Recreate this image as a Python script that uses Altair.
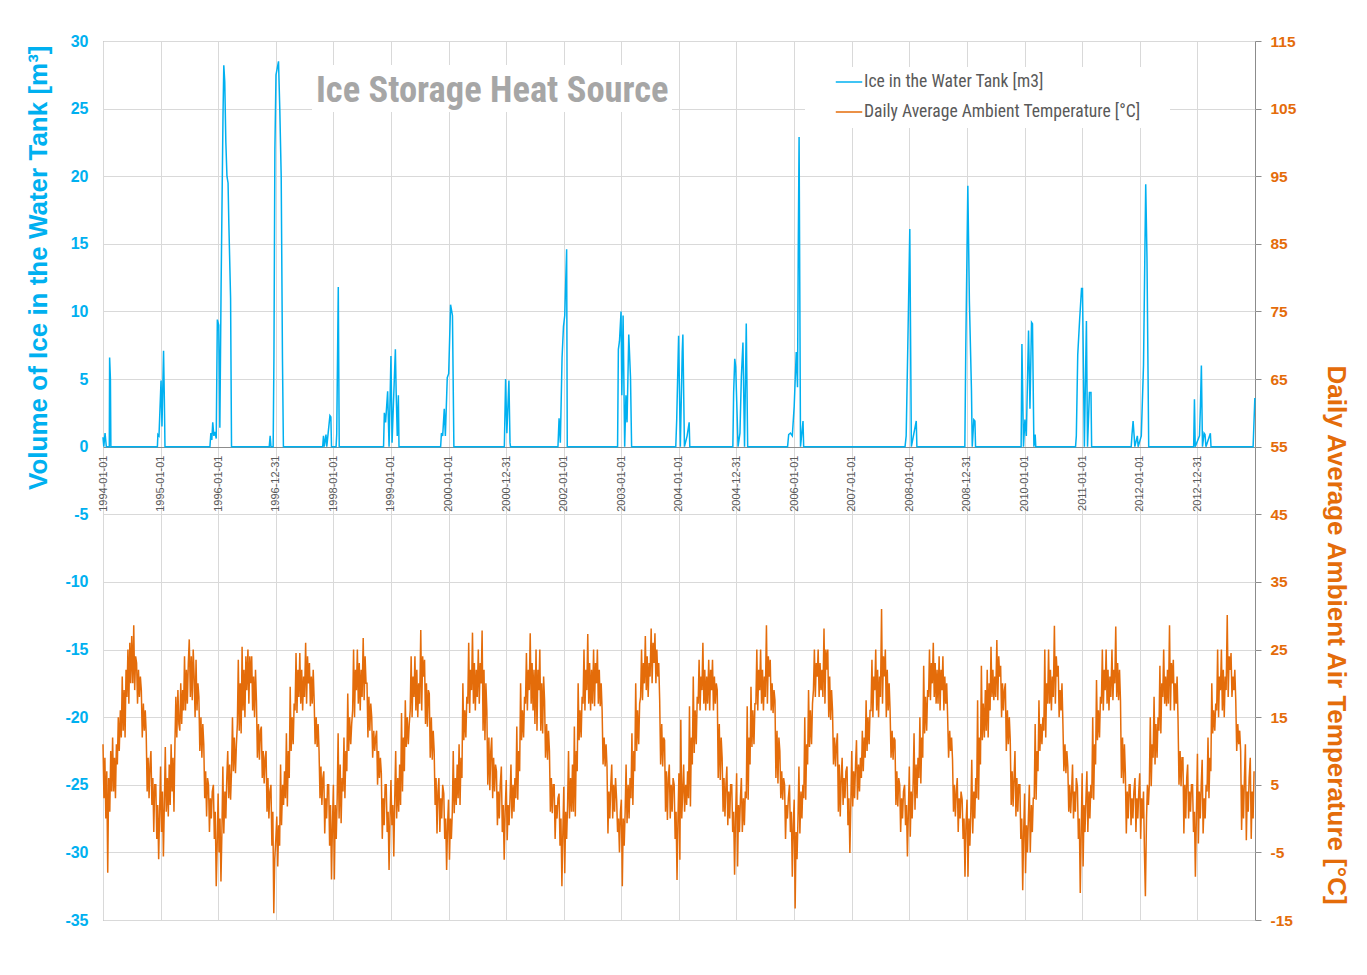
import altair as alt
import pandas as pd

ICE_NAME = "Ice in the Water Tank [m3]"
TEMP_NAME = "Daily Average Ambient Temperature [°C]"
ICE_COLOR = "#00B0F0"
TEMP_COLOR = "#E46C0A"
GRID = "#D9D9D9"
FRAME = "#8C8C8C"
BOLD = "Liberation Sans, Arial, sans-serif"
NARROW = "Roboto Condensed, Liberation Sans Narrow, Arial Narrow, sans-serif"

# x axis tick labels (as printed on the chart)
tick_dates = [
    "1994-01-01", "1995-01-01", "1996-01-01", "1996-12-31", "1998-01-01",
    "1999-01-01", "2000-01-01", "2000-12-31", "2002-01-01", "2003-01-01",
    "2004-01-01", "2004-12-31", "2006-01-01", "2007-01-01", "2008-01-01",
    "2008-12-31", "2010-01-01", "2011-01-01", "2012-01-01", "2012-12-31",
]

# ice in the water tank [m3]
ice_dates = [
    "1994-01-01", "1994-01-06", "1994-01-14", "1994-01-19", "1994-01-22", "1994-02-10", "1994-02-12", "1994-02-17", "1994-02-20",
    "1994-12-12", "1994-12-15", "1994-12-22", "1995-01-04", "1995-01-10", "1995-01-20", "1995-01-25", "1995-01-29",
    "1995-11-10", "1995-11-16", "1995-11-22", "1995-11-28", "1995-12-05", "1995-12-12", "1995-12-20", "1995-12-27",
    "1996-01-05", "1996-01-12", "1996-01-20", "1996-02-01", "1996-02-06", "1996-02-12", "1996-02-19", "1996-02-26",
    "1996-03-04", "1996-03-09", "1996-03-20", "1996-03-26",
    "1996-11-20", "1996-11-26", "1996-12-01", "1996-12-15", "1996-12-20", "1996-12-26", "1997-01-02", "1997-01-10",
    "1997-01-18", "1997-01-26", "1997-02-04", "1997-02-12", "1997-02-18",
    "1997-10-25", "1997-10-30", "1997-11-04", "1997-11-15", "1997-11-20", "1997-12-10", "1997-12-16", "1997-12-20",
    "1998-01-18", "1998-01-22", "1998-02-01", "1998-02-07",
    "1998-11-15", "1998-11-20", "1998-11-28", "1998-12-11", "1998-12-20", "1999-01-01", "1999-01-08", "1999-01-29",
    "1999-02-03", "1999-02-10", "1999-02-17", "1999-02-21",
    "1999-11-12", "1999-11-17", "1999-11-25", "1999-12-05", "1999-12-12", "1999-12-24", "2000-01-02", "2000-01-14",
    "2000-01-26", "2000-02-04",
    "2000-12-20", "2000-12-28", "2001-01-05", "2001-01-18", "2001-01-25", "2001-01-28",
    "2001-11-25", "2001-12-02", "2001-12-10", "2001-12-21", "2001-12-30", "2002-01-07", "2002-01-19", "2002-01-23",
    "2002-12-08", "2002-12-13", "2002-12-20", "2002-12-30", "2003-01-04", "2003-01-12", "2003-01-22", "2003-01-30",
    "2003-02-06", "2003-02-17", "2003-02-28", "2003-03-07",
    "2003-12-12", "2003-12-18", "2003-12-30", "2004-01-10", "2004-01-22", "2004-01-26", "2004-02-05", "2004-02-22",
    "2004-03-06", "2004-03-10",
    "2004-12-08", "2004-12-13", "2004-12-20", "2004-12-26", "2005-01-10", "2005-01-22", "2005-01-31", "2005-02-10",
    "2005-02-20", "2005-03-03", "2005-03-12",
    "2005-11-20", "2005-11-27", "2005-12-08", "2005-12-20", "2006-01-01", "2006-01-14", "2006-01-22", "2006-01-27",
    "2006-02-01", "2006-02-10", "2006-02-26", "2006-03-02",
    "2007-12-05", "2007-12-12", "2007-12-22", "2008-01-04", "2008-01-14", "2008-02-14", "2008-02-18",
    "2008-12-18", "2008-12-24", "2009-01-06", "2009-01-16", "2009-01-29", "2009-02-03", "2009-02-13", "2009-02-20",
    "2009-02-24",
    "2009-12-10", "2009-12-15", "2009-12-25", "2010-01-03", "2010-01-12", "2010-01-26", "2010-02-04", "2010-02-14",
    "2010-02-20", "2010-03-01", "2010-03-09", "2010-03-13",
    "2010-11-20", "2010-11-25", "2010-12-04", "2010-12-16", "2010-12-28", "2011-01-03", "2011-01-15", "2011-01-28",
    "2011-02-04", "2011-02-16", "2011-02-26", "2011-03-02",
    "2011-11-08", "2011-11-13", "2011-11-20", "2011-11-26", "2011-12-01", "2011-12-17", "2011-12-22", "2012-01-11",
    "2012-01-25", "2012-02-08", "2012-02-16", "2012-02-27",
    "2012-12-08", "2012-12-13", "2012-12-18", "2013-01-14", "2013-01-20", "2013-01-26", "2013-02-02", "2013-02-12",
    "2013-02-18", "2013-02-24", "2013-03-24", "2013-03-28",
    "2013-12-20", "2013-12-31",
]
ice_m3 = [
    0.7, 0, 1.0, 0.4, 0, 0, 6.6, 5.0, 0,
    0, 0.9, 0.8, 4.9, 1.5, 7.1, 3.5, 0,
    0, 1.0, 0.5, 1.8, 0.8, 1.1, 0.6, 9.4,
    9.0, 1.4, 12, 24.5, 28.2, 27, 22.5, 20,
    19.5, 16.5, 11, 0,
    0, 0.8, 0, 0, 6.7, 22, 27.5, 28.0,
    28.5, 25, 20, 6.5, 0,
    0, 0.8, 0, 0.9, 0, 2.3, 2.2, 0,
    0, 0.9, 11.8, 0,
    0, 2.5, 1.8, 4.1, 0, 6.7, 0.3, 7.2,
    4.0, 0.8, 3.8, 0,
    0, 1.0, 0.8, 2.8, 0.8, 5.1, 5.4, 10.5,
    9.7, 0,
    0, 5.0, 1.0, 4.9, 0.3, 0,
    0, 2.1, 0.3, 6.6, 8.9, 9.7, 14.6, 0,
    0, 7.2, 7.8, 10.0, 3.8, 9.7, 0, 3.8,
    1.8, 8.3, 5.1, 0,
    0, 2.0, 8.2, 0, 7.0, 8.3, 0, 0.8,
    1.8, 0,
    0, 4.0, 6.5, 5.9, 0, 1.0, 5.2, 7.7,
    0, 9.1, 0,
    0, 0.9, 1.0, 0.8, 3.0, 7.0, 4.4, 15,
    22.9, 0, 1.9, 0,
    0, 0.8, 7.2, 16.1, 0, 1.9, 0,
    0, 7.2, 19.3, 10.7, 4.2, 0, 2.0, 1.9,
    0,
    0, 7.6, 0, 2.0, 0.8, 8.6, 2.8, 9.2,
    9.1, 0, 0.9, 0,
    0, 0.8, 6.8, 9.4, 11.7, 11.7, 0, 9.3,
    0, 4.0, 4.0, 0,
    0, 0.9, 1.9, 0.9, 0, 0.8, 0, 0.8,
    6.0, 19.4, 14, 0,
    0, 3.5, 0, 0.8, 3.0, 6.0, 0, 1.0,
    0.9, 0, 1.0, 0,
    0, 3.6,
]

# daily average ambient temperature [°C], five readings per month
t1994 = [11, 3, 9, 0, 7, -8, 6, 1, 10, 4, 12, 4, 9, 3, 11, 8, 15, 10, 16, 12,
         21, 13, 19, 12, 22, 18, 25, 17, 26, 20, 27, 20, 28.6, 19, 24, 23, 17, 22, 18, 21,
         19, 12, 17, 13, 16, 12.6, 4, 9, 3, 8, 10, 2, 6, -2, 5, 5, -3, 2, -6, 1]
t1995 = [7.7, -2, 4, -5.6, 2, 10.6, 1, 6, 0.3, 8, 2, 11, 4, 9, 1, 11, 18, 12, 19, 14,
         13, 20, 14, 19, 16, 24, 16, 22, 17, 23, 26.5, 18, 24, 17.5, 25, 21, 15, 23.5, 16, 20,
         18, 10, 15, 9, 14, 11, 3, 7, 0.3, 6, 5, -2, 3, 0, 4, 5, -3, 1, -10, -4]
t1996 = [3.7, -5, 0, -9.3, -2, 7.7, -2.2, 4, 0, 6, 10, 3, 8, 2.8, 7, 15, 7, 12, 6.7, 11,
         14, 23.5, 13, 20, 12.6, 25.4, 16, 22, 15, 24, 19, 25, 17, 24, 20, 24, 16, 21, 15, 22,
         17.5, 9, 14, 8.7, 13, 13.6, 6, 10, 5.2, 9, 10, 1, 6, 0, 4, 5, -4, 1, -14, -6]
t1997 = [-3, 0.3, -7.1, -1, -4, 8, -1, 5, 2, 7, 3, 12.6, 1.8, 10, 6, 19.5, 10, 15, 11, 17,
         16, 24.5, 15.6, 22, 18, 24.5, 17, 22, 16, 21, 18, 26, 17, 24, 20, 23, 16.6, 21, 17, 22,
         17.5, 11, 15, 10.6, 14, 10, 3, 7.7, 2, 6, 7, -2.2, 3, 0, 5, 5, -4, 2, -9, -1]
t1998 = [5, -9, 2, -3, 3, 12.6, 0, 8, -0.7, 6, 4, 12, 3, 10, 7, 18.5, 10, 15, 11, 14,
         16, 25, 15, 22, 19, 25, 17, 23, 16, 22, 18, 26.7, 17.5, 24, 20, 20, 12, 18, 13, 17,
         15, 9, 13, 10, 12, 13, 5, 10, 6, 9, 6.7, -3, 3, -1, 5, 5, -2, 1, -7.6, 0]
t1999 = [5.7, -1, 2, -5.6, 3, 10, 0, 6, 1, 8, 2, 15.6, 4, 12, 7, 17.5, 10.6, 15, 11, 14,
         16, 24, 15, 21, 18, 24, 16, 22, 15, 20, 17, 27.9, 16, 24, 21, 23.5, 14, 20, 13.6, 19,
         18.5, 9, 15, 8.7, 13, 10, 2, 6, -2.2, 4, 6, -2, 3, 0, 5, 3.7, -3, 0, -7.6, -1]
t2000 = [2.8, -6.1, 0, -3, 1, 10, 0.8, 6, 2, 8, 3, 11, 2, 9, 6, 20, 11.6, 16, 12, 18,
         17, 26, 15.6, 22, 19, 27.5, 17, 23, 16, 22, 18, 25, 17, 23, 20, 27.8, 13, 22, 11.6, 20,
         16, 5, 12, 4.2, 10, 12, 3, 9, 4, 8, 7, -1, 4, 0, 5, 7.7, -2, 2, -6.1, 1]
t2001 = [5.7, -3.2, 2, -1, 3, 8, 0, 5, 1, 6, 3, 13.6, 2.8, 10, 7, 20, 11.6, 16, 12, 18,
         17, 24.5, 16, 22, 19, 27.4, 17, 23, 16, 22, 14, 25, 13, 22, 19, 25, 13, 20, 12.6, 21,
         17.5, 9, 14, 8.7, 13, 10, 1, 6, 0.8, 5, 5, -3, 2, 0, 3, 3.7, -4, 0, -10, -2]
t2002 = [4.7, -8.1, 1, -3, 2, 10, 0, 6, 1, 8, 1, 13.6, 0.3, 10, 7, 20, 11.6, 16, 12, 18,
         17, 25, 16, 22, 19, 27.3, 17, 23, 16, 22, 17, 25, 16.6, 23, 20, 25, 17, 22, 16.6, 20,
         16, 8, 12, 7.7, 11, 7.7, -2.2, 4, 0, 5, 8, 0, 5, 1, 6, 2.8, -2, 0, -5, 1]
t2003 = [2.8, -10, 0, -4, 1, 8, -0.7, 5, 0, 6, 3, 12.6, 2, 10, 7, 20, 10, 16, 11, 17,
         18, 25, 17.5, 23, 20, 27, 19, 24, 18, 23, 21, 28.1, 20, 26, 23, 27.4, 20, 25, 21, 23,
         17.5, 8, 14, 7.7, 12, 11.6, 1, 7, -0.2, 6, 8, 0, 5, 1, 6, 5, -3, 1, -9.1, 0]
t2004 = [6.7, -6.1, 14.6, 0, 4, 8, 1, 5, 2, 7, 3, 16.6, 1.8, 12, 8, 21, 9.7, 16, 11, 18,
         17, 23.5, 16, 21, 19, 26, 17, 22, 16, 21, 17, 23.5, 16, 22, 19, 23.5, 16, 21, 17, 20,
         19, 6, 14, 5.7, 12, 9, 1, 6, 0.3, 5, 7.7, -1, 4, 0, 5, 5, -2, 1, -8.3, 0]
t2005 = [6.7, -7.1, 2, -2, 3, 6, -2, 3, -1, 4, 3, 16.6, 2.8, 12, 8, 19.5, 10.6, 16, 11, 17,
         17, 25, 16, 22, 19, 25, 17, 22, 16, 21, 18, 28.6, 17, 24, 21, 23.5, 16, 20, 15.6, 19,
         17.5, 6, 13, 5.2, 12, 10, 3, 7, 2.8, 6, 5, -3, 2, 0, 3, 5, -2, 1, -8.6, -1]
t2006 = [2.8, -13.3, -2, -6, 0, 7.7, -2.2, 4, 0, 5, 3, 15, 2.8, 11, 8, 19, 10.6, 16, 11, 17,
         19, 25, 18, 23, 21, 25, 18, 23, 19, 22, 18, 28.1, 17, 25, 22, 25, 15, 21, 14.6, 19,
         16, 8, 12, 7.7, 11, 12.6, 1, 8, 0.3, 6, 9, 2, 6, 3, 7, 7.7, -1, 3, -5.1, 2]
t2007 = [10, 1.8, 7, 3, 8, 11.6, 2.8, 8, 4, 9, 6, 13, 7, 12, 9, 17.5, 10, 15, 11, 16,
         16, 23.5, 15, 21, 19, 25, 16, 22, 15, 21, 18, 31, 17, 24, 21, 25, 15, 22, 16, 20,
         16, 9, 13, 8.7, 12, 11.6, 2, 7, 1.8, 6, 5, -2, 3, 0, 4, 5, -1, 2, -5.6, 1]
t2008 = [7.7, -2.7, 4, 0, 5, 12.6, 1.3, 8, 3, 9, 6, 15, 5.2, 12, 9, 22.6, 12.6, 18, 13, 19,
         18, 25, 17.5, 23, 20, 26, 18, 23, 17, 22, 17, 24, 16, 22, 19, 24, 16, 21, 17, 20,
         15, 9, 13, 10, 12, 8.7, 1, 5, 0.3, 4, 6, -2, 3, 0, 4, 2.8, -3, 0, -8.6, -1]
t2009 = [2.8, -8.6, 0, -4, 1, 8.7, -2.2, 4, 0, 6, 3, 17.5, 2.8, 12, 8, 22.6, 11.6, 17, 12, 19,
         13, 22, 12, 20, 16, 25.4, 18, 22, 17.5, 21, 18, 26.4, 17.5, 24, 21, 22.6, 15, 20, 16, 19,
         20, 10, 16, 11, 15, 11.6, 2, 7, 1.8, 6, 10, 0.3, 6, 1, 5, 5, -3, 0, -10.6, -2]
t2010 = [3.7, -8.1, -1, -5, 0, 5, -5, 2, -2, 3, 3, 14, 2.8, 10, 7, 17.5, 10, 14, 11, 15,
         13, 25, 12, 20, 17, 25, 17, 22, 16, 21, 18, 28.5, 17, 24, 21, 22.6, 15, 19, 16, 20,
         14, 7, 11, 6.7, 10, 7.7, 1, 5, 0.8, 4, 8, 0, 4, 1, 6, 4.7, -3, 0, -11, -2]
t2011 = [6.7, -7.1, 2, -2, 3, 7, -2, 4, 0, 5, 3, 15, 2.8, 11, 8, 20.5, 11.6, 16, 12, 18,
         17, 25, 16, 22, 19, 25, 17, 22, 16, 21, 18, 25, 17.5, 22, 20, 28.4, 18, 23, 17.5, 22,
         17.5, 6, 12, 5.2, 11, 6.7, -2.2, 4, 0, 5, 5, -1, 3, 0, 4, 6, -2, 3, 0, 4]
t2012 = [6.7, -3, 3, 0, 4, -5, -11.5, 0, 5, 2, 5, 15, 4.8, 11, 9, 18, 8, 14, 9, 15,
         13, 22.6, 12.6, 20, 18, 25, 17, 21, 16.6, 22, 17, 28.6, 16, 23, 20, 23.5, 16, 20, 17, 21,
         14.6, 5, 10, 4.8, 9, 9, -2.2, 5, 0, 6, 8, 0, 4, 1, 5, 5, -2, 1, -8.6, 0]
t2013 = [9.6, -3.7, 4, 0, 5, 8.7, -2.2, 3, 0, 5, 4, 12, 3, 9, 7, 20, 12.6, 16, 13, 17,
         16, 25, 15, 21, 19, 25, 16, 22, 15, 21, 19, 30.1, 18, 24, 22, 24.5, 18, 21, 19, 22,
         17.5, 10, 14, 11, 13, 10, -1.7, 5, 0, 6, 11, -3.2, 4, 1, 6, 9, -3, 4, 0, 7]

temp_years = [
    (1994, t1994), (1995, t1995), (1996, t1996), (1997, t1997), (1998, t1998),
    (1999, t1999), (2000, t2000), (2001, t2001), (2002, t2002), (2003, t2003),
    (2004, t2004), (2005, t2005), (2006, t2006), (2007, t2007), (2008, t2008),
    (2009, t2009), (2010, t2010), (2011, t2011), (2012, t2012), (2013, t2013),
]

# tables
ice_df = pd.DataFrame({"date": ice_dates, "value": ice_m3, "series": ICE_NAME})

rows = []
for year, vals in temp_years:
    start = pd.Timestamp(f"{year}-01-01")
    step = 365 / len(vals)
    for k, v in enumerate(vals):
        d = start + pd.Timedelta(days=round(k * step))
        rows.append({"date": d.strftime("%Y-%m-%d"), "value": v, "series": TEMP_NAME})
temp_df = pd.DataFrame(rows)


def utc_day(s):
    y, m, d = (int(p) for p in s.split("-"))
    return alt.DateTime(year=y, month=m, date=d, utc=True)


x_enc = alt.X(
    "date:T",
    scale=alt.Scale(type="utc", domain=[utc_day("1994-01-01"), utc_day("2014-01-01")]),
    axis=alt.Axis(
        values=[utc_day(t) for t in tick_dates], format="%Y-%m-%d",
        title=None, labelAngle=270, labelFont=BOLD, labelFontSize=11,
        labelColor="#595959", labelPadding=8, labelFlush=False,
        labelOverlap=False, labelBound=False, ticks=False,
        domainColor=FRAME, offset=-473,
        grid=True, gridColor=GRID,
    ),
)
color = alt.Color(
    "series:N",
    scale=alt.Scale(domain=[ICE_NAME, TEMP_NAME], range=[ICE_COLOR, TEMP_COLOR]),
    legend=alt.Legend(
        title=None, orient="none", legendX=732, legendY=27, padding=0,
        symbolType="stroke", symbolSize=700, symbolStrokeWidth=1.5,
        labelFont=NARROW, labelFontSize=17.6, labelColor="#595959",
        labelOffset=1, rowPadding=7, labelLimit=500,
    ),
)

ice = (
    alt.Chart(ice_df)
    .mark_line(strokeWidth=1.5)
    .encode(
        x=x_enc,
        y=alt.Y(
            "value:Q", scale=alt.Scale(domain=[-35, 30], nice=False),
            axis=alt.Axis(
                orient="left", values=list(range(-35, 31, 5)), labelExpr="'' + datum.value",
                title="Volume of Ice in the Water Tank [m³]",
                titleFont=BOLD, titleFontSize=26, titleFontWeight="bold", titleColor=ICE_COLOR,
                titleAngle=270, titleAlign="right", titleBaseline="middle",
                titleX=-65, titleY=4,
                labelFont=BOLD, labelFontSize=16, labelFontWeight="bold", labelColor=ICE_COLOR,
                labelPadding=15, ticks=False, tickSize=0, domain=False,
                grid=True, gridColor=GRID,
            ),
        ),
        color=color,
    )
)

temp = (
    alt.Chart(temp_df)
    .mark_line(strokeWidth=1.5)
    .encode(
        x=x_enc,
        y=alt.Y(
            "value:Q", scale=alt.Scale(domain=[-15, 115], nice=False),
            axis=alt.Axis(
                orient="right", values=list(range(-15, 116, 10)), labelExpr="'' + datum.value",
                title="Daily Average Ambient Air Temperature [°C]",
                titleFont=BOLD, titleFontSize=26, titleFontWeight="bold", titleColor=TEMP_COLOR,
                titleAngle=90, titleAlign="left", titleBaseline="middle",
                titleX=80, titleY=324,
                labelFont=BOLD, labelFontSize=15.5, labelFontWeight="bold", labelColor=TEMP_COLOR,
                labelPadding=9, tickColor=FRAME, tickSize=6, domain=False, grid=False,
            ),
        ),
        color=color,
    )
)

dummy = pd.DataFrame({"a": [0]})
title_box = alt.Chart(dummy).mark_rect(color="white").encode(
    x=alt.value(209), x2=alt.value(569), y=alt.value(24), y2=alt.value(71)
)
legend_box = alt.Chart(dummy).mark_rect(color="white").encode(
    x=alt.value(702), x2=alt.value(1067), y=alt.value(26), y2=alt.value(87)
)
title_text = alt.Chart(dummy).mark_text(
    text="Ice Storage Heat Source", font=NARROW, fontSize=36.5, fontWeight="bold",
    color="#A6A6A6", align="left", baseline="alphabetic",
).encode(x=alt.value(213), y=alt.value(61))

chart = (
    alt.layer(title_box, legend_box, ice, temp, title_text)
    .resolve_scale(y="independent")
    .properties(
        width=1152, height=879,
        autosize=alt.AutoSizeParams(type="none"),
        padding={"left": 95, "top": 33, "right": 100, "bottom": 40},
        background="white",
    )
    .configure_view(stroke=FRAME, strokeWidth=1)
)

chart.save("out.html", embed_options={"renderer": "svg", "actions": False})
